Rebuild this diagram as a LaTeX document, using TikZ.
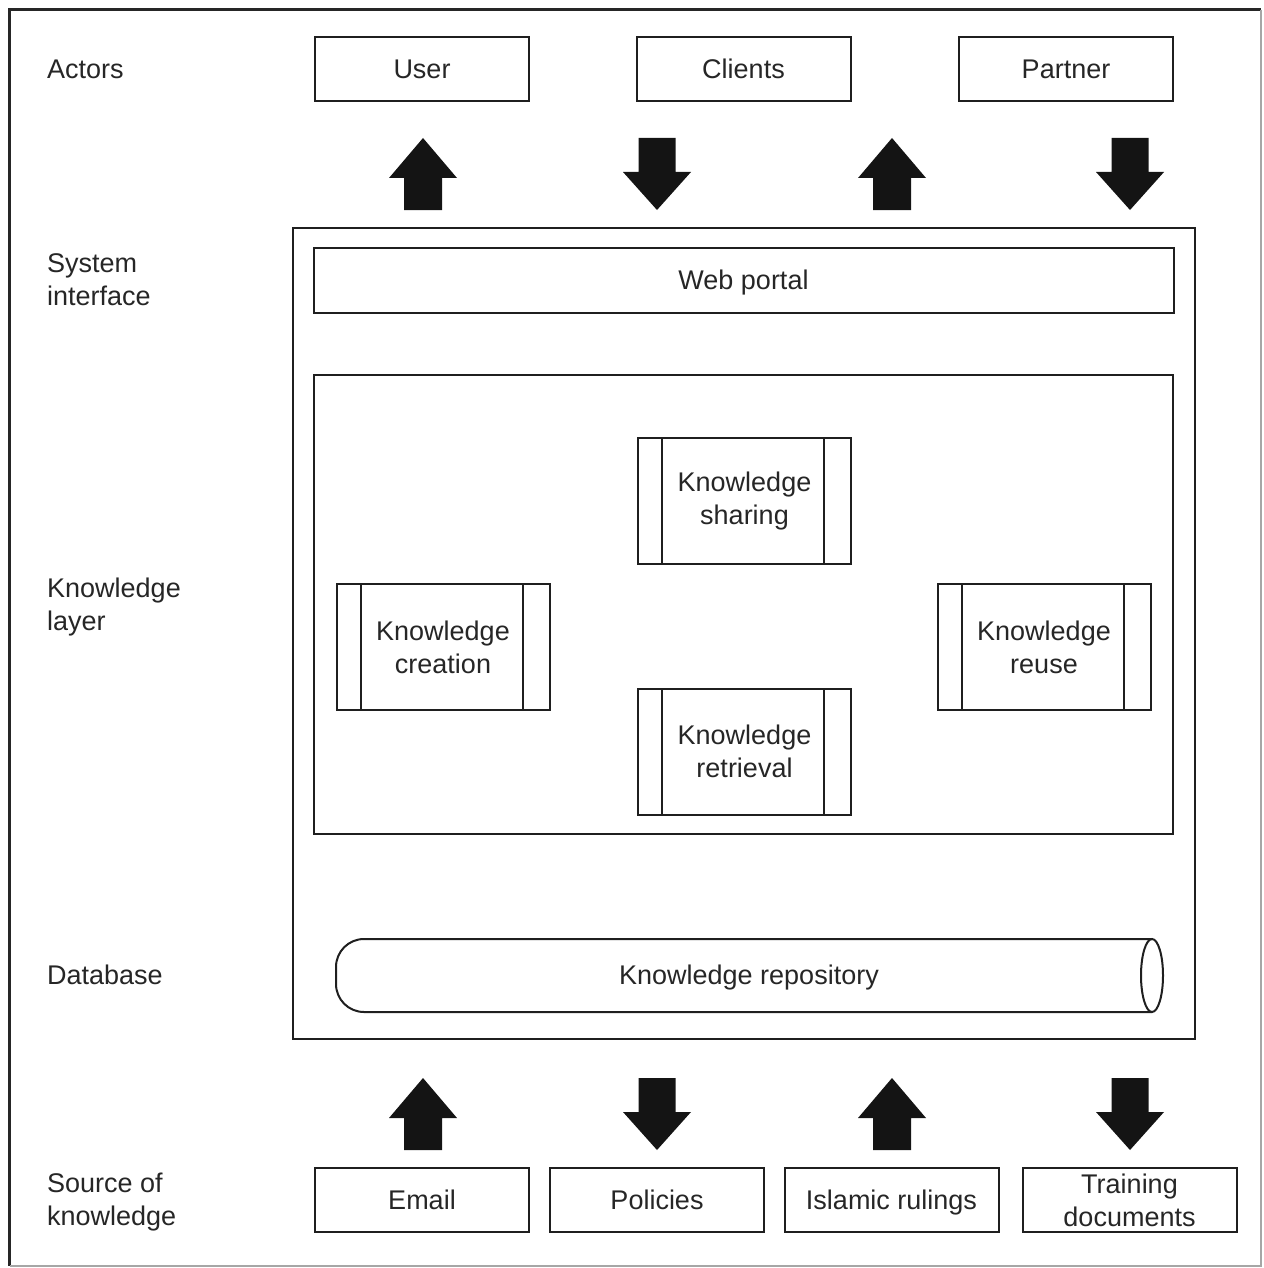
\documentclass[tikz,border=0pt]{standalone}
\usepackage{fontspec}
\setmainfont{Liberation Sans}
\begin{document}
\begin{tikzpicture}[x=1pt,y=-1pt,
  ink/.style={draw=black!88, line width=2pt},
  txt/.style={font=\fontsize{27}{33}\selectfont, text=black!85},
  oneline/.style={text height=19.5pt, text depth=0pt},
  box/.style={ink, txt, rectangle, minimum width=214pt, minimum height=64pt, inner sep=0pt, align=center},
  procbox/.style={ink, txt, rectangle, minimum width=213pt, minimum height=126pt, inner sep=0pt, align=center,
    path picture={
      \draw[draw=black!88, line width=2pt]
        ([xshift=24pt]path picture bounding box.north west) -- ([xshift=24pt]path picture bounding box.south west)
        ([xshift=-27pt]path picture bounding box.north east) -- ([xshift=-27pt]path picture bounding box.south east);
    }},
  layerlabel/.style={txt, anchor=west, align=left, inner sep=0pt},
  uparrow/.pic={\fill[black!92] (0,-36) -- (34,4) -- (19,4) -- (19,36) -- (-19,36) -- (-19,4) -- (-34,4) -- cycle;},
  downarrow/.pic={\fill[black!92] (0,36) -- (34,-2) -- (18.5,-2) -- (18.5,-36) -- (-18.5,-36) -- (-18.5,-2) -- (-34,-2) -- cycle;}
]
\useasboundingbox (0,0) rectangle (1263,1268);

% page frame
\draw[line width=3pt, black!85] (9.5,1266) -- (9.5,10) -- (1261,10);
\draw[line width=1.5pt, black!35] (1261,10) -- (1261,1266) -- (9.5,1266);

% row labels
\node[layerlabel, oneline] (lActors) at (47,69) {Actors};
\node[layerlabel] (lSys) at (47,280) {System\\interface};
\node[layerlabel] (lKnow) at (47,607) {Knowledge\\layer};
\node[layerlabel, oneline] (lDb) at (47,975) {Database};
\node[layerlabel] (lSrc) at (47,1202) {Source of\\knowledge};

% actors
\node[box, oneline] (user) at (422,69) {User};
\node[box, oneline] (clients) at (743.5,69) {Clients};
\node[box, oneline] (partner) at (1066,69) {Partner};

% system container
\draw[ink] (293,228) rectangle (1195,1039);
\node[box, oneline, minimum width=860pt, minimum height=65pt] (portal) at (743.5,280) {Web portal};
\draw[ink] (314,375) rectangle (1173,834);
\node[procbox] (share) at (744.5,501) {Knowledge\\sharing};
\node[procbox] (create) at (443,647) {Knowledge\\creation};
\node[procbox] (reuse) at (1044,647) {Knowledge\\reuse};
\node[procbox] (retr) at (744.5,751.5) {Knowledge\\retrieval};

% repository cylinder
\draw[ink, rounded corners=28pt] (1152,939) -- (336,939) -- (336,1012) -- (1152,1012);
\draw[ink] (1152,975.5) ellipse [x radius=11, y radius=36.5];
\node[txt, oneline] (repo) at (749,975) {Knowledge repository};

% flow arrows between actors and the portal
\pic at (423,174) {uparrow};
\pic at (657,174) {downarrow};
\pic at (892,174) {uparrow};
\pic at (1130,174) {downarrow};

% flow arrows between sources and the repository
\pic at (423,1114) {uparrow};
\pic at (657,1114) {downarrow};
\pic at (892,1114) {uparrow};
\pic at (1130,1114) {downarrow};

% knowledge sources
\node[box, oneline] (email) at (422,1200) {Email};
\node[box, oneline] (policies) at (657,1200) {Policies};
\node[box, oneline] (rulings) at (891.5,1200) {Islamic rulings};
\node[box] (training) at (1129.5,1200) {Training\\documents};
\end{tikzpicture}
\end{document}
